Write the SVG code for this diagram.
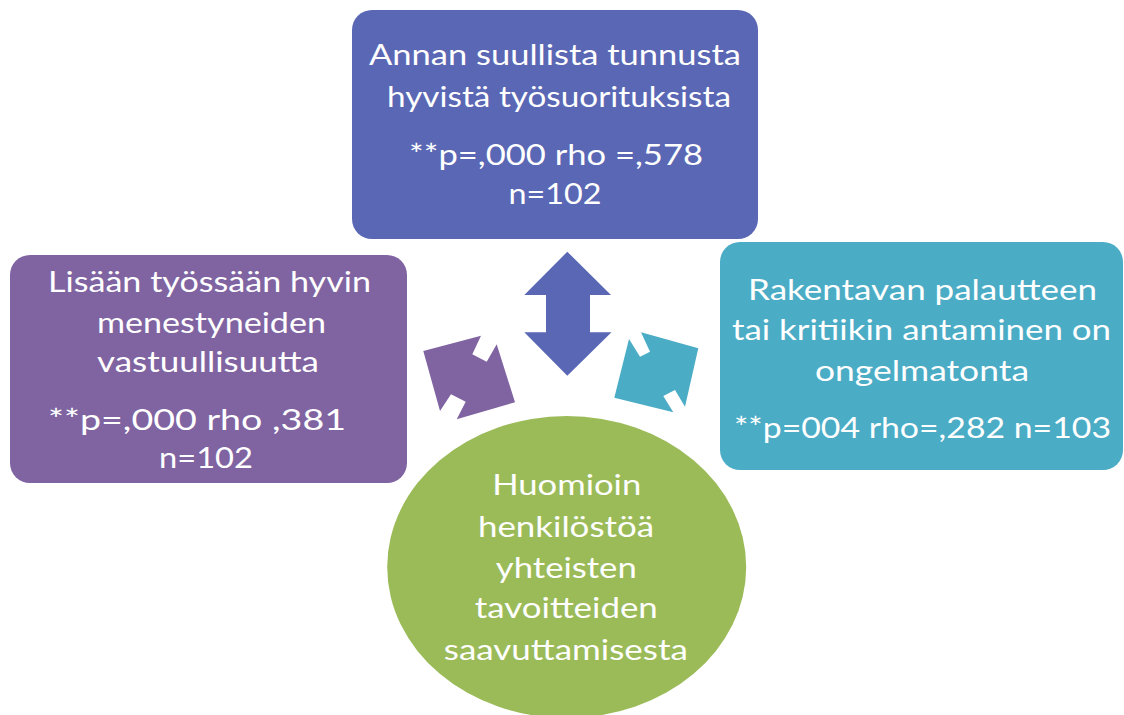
<svg xmlns="http://www.w3.org/2000/svg" width="1124" height="715" viewBox="0 0 1124 715">
<style>
.t{font-family:Lato,"Liberation Sans",sans-serif;font-size:29px;fill:#ffffff;text-anchor:middle}
.blue{fill:#5A67B4}
.purple{fill:#8064A2}
.cyan{fill:#4BACC6}
.green{fill:#9BBB59}
</style>
<rect width="1124" height="715" fill="#ffffff"/>
<g id="connectors">
<polygon class="blue" points="567.3,251.7 611,295 590,295 590,332.3 611.5,332.3 567.3,375.7 524.3,332.3 546,332.3 546,295 524.3,295"/>
<polygon class="purple" points="423.3,351 481,335.7 472.3,354.3 486.7,361.7 496.7,344.3 515,402.3 456.7,419.3 465.7,401.7 451,394.3 440,411"/>
<polygon class="cyan" points="629,339 640,356.7 650,351.7 641,332.3 698.3,348.3 685,406.7 675,390 663.3,396 673.3,412.3 614.3,397.7"/>
</g>
<g id="node-top">
<rect class="blue" x="352" y="10" width="406" height="229" rx="20"/>
<text class="t" x="555" y="65" textLength="372" lengthAdjust="spacingAndGlyphs">Annan suullista tunnusta</text>
<text class="t" x="559" y="107" textLength="344" lengthAdjust="spacingAndGlyphs">hyvistä työsuorituksista</text>
<text class="t" x="556" y="165" textLength="294" lengthAdjust="spacingAndGlyphs">**p=,000 rho =,578</text>
<text class="t" x="555" y="204" textLength="93" lengthAdjust="spacingAndGlyphs">n=102</text>
</g>
<g id="node-left">
<rect class="purple" x="10" y="255" width="397" height="228" rx="20"/>
<text class="t" x="209.5" y="292" textLength="323" lengthAdjust="spacingAndGlyphs">Lisään työssään hyvin</text>
<text class="t" x="211.5" y="333" textLength="229" lengthAdjust="spacingAndGlyphs">menestyneiden</text>
<text class="t" x="208" y="372" textLength="222" lengthAdjust="spacingAndGlyphs">vastuullisuutta</text>
<text class="t" x="197" y="430" textLength="298" lengthAdjust="spacingAndGlyphs">**p=,000 rho ,381</text>
<text class="t" x="206" y="468" textLength="94" lengthAdjust="spacingAndGlyphs">n=102</text>
</g>
<g id="node-right">
<rect class="cyan" x="720" y="242" width="403" height="228" rx="20"/>
<text class="t" x="922.5" y="300" textLength="349" lengthAdjust="spacingAndGlyphs">Rakentavan palautteen</text>
<text class="t" x="921.5" y="340" textLength="379" lengthAdjust="spacingAndGlyphs">tai kritiikin antaminen on</text>
<text class="t" x="922" y="381" textLength="214" lengthAdjust="spacingAndGlyphs">ongelmatonta</text>
<text class="t" x="922.5" y="438" textLength="377" lengthAdjust="spacingAndGlyphs">**p=004 rho=,282 n=103</text>
</g>
<g id="node-bottom">
<ellipse class="green" cx="566.7" cy="567" rx="179.5" ry="151"/>
<text class="t" x="566.7" y="495" textLength="149" lengthAdjust="spacingAndGlyphs">Huomioin</text>
<text class="t" x="566" y="537" textLength="176" lengthAdjust="spacingAndGlyphs">henkilöstöä</text>
<text class="t" x="566.3" y="578" textLength="141" lengthAdjust="spacingAndGlyphs">yhteisten</text>
<text class="t" x="566.3" y="618" textLength="183" lengthAdjust="spacingAndGlyphs">tavoitteiden</text>
<text class="t" x="565.8" y="660" textLength="244" lengthAdjust="spacingAndGlyphs">saavuttamisesta</text>
</g>
</svg>
